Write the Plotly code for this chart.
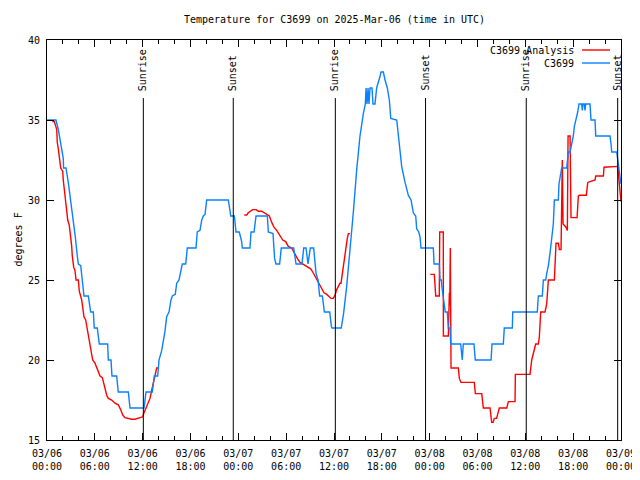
import pandas as pd
import plotly.graph_objects as go

# ---------------- data ----------------
BASE = "2025-03-06 00:00"
title_text = "Temperature for C3699 on 2025-Mar-06 (time in UTC)"
y_title = "degrees F"

# hours after 2025-03-06 00:00 UTC, and temperature (F)
obs_hours = [0.0, 1.13, 1.42, 1.72, 2.04, 2.08, 2.38, 2.67, 2.97, 3.26, 3.55, 3.80, 3.93, 4.23, 4.48, 4.64,
             5.18, 5.39, 5.48, 5.81, 5.93, 6.31, 6.56, 7.61, 7.69, 8.03, 8.15, 8.74, 8.94, 10.20, 10.41,
             12.17, 12.29, 12.42, 13.21, 13.33, 13.46, 13.89, 14.05, 14.39, 14.59, 14.80, 15.01, 15.30,
             15.55, 15.72, 16.09, 16.27, 16.56, 16.81, 16.97, 17.40, 17.60, 18.69, 18.85, 19.19, 19.41,
             19.61, 19.82, 20.03, 22.74, 22.96, 23.04, 23.50, 23.71, 24.12, 24.42, 24.50, 25.46, 25.59,
             25.97, 26.22, 27.64, 27.76, 28.35, 28.55, 28.72, 29.18, 29.39, 30.94, 31.24, 31.99, 32.20,
             32.49, 32.74, 33.03, 33.45, 33.75, 34.00, 34.20, 34.54, 34.79, 35.46, 35.67, 35.75, 36.91,
             37.20, 37.59, 38.01, 38.42, 38.85, 39.26, 39.68, 39.93, 40.02, 40.14, 40.27, 40.39, 40.52,
             40.77, 40.89, 41.14, 41.35, 41.55, 41.76, 41.90, 42.19, 42.40, 42.69, 42.94, 43.12, 43.87,
             44.07, 44.28, 44.49, 44.91, 45.32, 45.66, 45.95, 46.25, 46.37, 46.63, 46.79, 46.91, 48.46,
             48.55, 49.21, 49.30, 49.46, 49.55, 49.71, 49.96, 50.21, 50.34, 50.55, 50.64, 51.89, 52.02,
             52.09, 52.22, 53.56, 53.72, 55.70, 55.82, 57.24, 57.36, 58.37, 58.42, 61.50, 61.63, 62.13,
             62.26, 62.56, 62.68, 62.89, 63.10, 63.31, 63.51, 63.64, 64.14, 64.22, 64.48, 64.56, 65.19,
             65.31, 65.39, 65.61, 66.02, 66.15, 66.36, 66.57, 66.73, 67.07, 67.15, 67.23, 67.40, 67.49,
             67.57, 68.11, 68.24, 68.74, 68.83, 70.62, 70.75, 70.84, 71.46, 71.59, 71.66, 71.79, 71.91, 72.0]
obs_temps = [35.0, 35.0, 34.4, 33.5, 32.6, 32.0, 32.0, 31.1, 30.0, 28.75, 27.7, 26.5, 26.0, 25.9, 24.7, 24.0,
             24.0, 23.2, 23.0, 23.0, 22.0, 22.0, 21.0, 21.0, 20.0, 20.0, 19.0, 19.0, 18.0, 18.0, 17.0,
             17.0, 17.7, 18.0, 18.0, 18.6, 19.0, 19.0, 20.0, 20.6, 21.1, 21.8, 22.7, 23.0,
             23.75, 24.0, 24.1, 24.8, 25.0, 25.7, 26.0, 26.0, 27.0, 27.0, 28.0, 28.1, 28.75,
             29.0, 29.1, 30.0, 30.0, 29.3, 29.0, 29.0, 28.0, 28.0, 27.4, 27.0, 27.0, 28.0,
             28.0, 29.0, 29.0, 28.0, 27.9, 26.35, 26.0, 26.0, 27.0, 27.0, 26.0, 26.0, 27.0,
             27.0, 26.0, 27.0, 27.0, 25.4, 25.0, 24.0, 24.0, 23.0, 23.0, 22.1, 22.0, 22.0,
             22.9, 24.6, 26.7, 29.2, 31.9, 34.0, 35.4, 36.0, 37.0, 36.0, 37.0, 36.0, 37.0,
             37.0, 36.0, 36.0, 37.0, 37.3, 37.7, 38.0, 38.0, 37.5, 37.0, 36.25, 35.1, 35.0,
             34.0, 33.1, 32.1, 31.1, 30.3, 30.0, 29.2, 29.0, 28.2, 28.0, 27.7, 27.0, 27.0,
             26.0, 26.0, 25.0, 25.0, 24.5, 24.0, 23.0, 23.0, 22.0, 22.0, 21.0, 21.0, 20.4,
             20.0, 21.0, 21.0, 20.0, 20.0, 21.0, 21.0, 22.0, 22.0, 23.0, 23.0, 24.0, 24.0,
             25.0, 25.0, 25.4, 25.9, 26.7, 27.5, 28.5, 30.0, 30.0, 31.0, 31.6, 32.0, 32.0,
             32.5, 33.0, 33.0, 34.0, 34.6, 35.0, 35.5, 36.0, 36.0, 35.6, 36.0, 36.0, 35.6,
             36.0, 36.0, 35.0, 35.0, 34.0, 34.0, 33.5, 33.0, 33.0, 32.5, 32.1, 31.5, 31.0, 31.0]

ana_hours = [0.66, 0.92, 1.22, 1.29, 1.42, 1.54, 1.67, 1.72, 1.84, 1.97, 2.04, 2.17, 2.35, 2.47, 2.60,
             2.80, 2.92, 3.01, 3.10, 3.17, 3.35, 3.51, 3.64, 3.93, 4.05, 4.35, 4.48, 4.64, 4.85, 5.06,
             5.31, 5.48, 5.61, 5.73, 6.02, 6.23, 6.44, 6.65, 6.94, 7.15, 7.36, 7.49, 7.69, 8.12, 8.53,
             8.94, 9.24, 9.50, 9.78, 10.20, 10.62, 11.04, 11.33, 11.67, 12.00, 12.17, 12.42, 12.71,
             12.92, 13.13, 13.33, 13.55, 13.76, 13.96, None,
             24.75, 25.05, 25.25, 25.55, 25.80, 26.22, 26.51, 26.93, 27.22, 27.56, 27.89, 28.19, 28.47,
             28.81, 29.10, 29.35, 29.57, 29.94, 30.27, 30.69, 30.90, 31.20, 31.45, 31.74, 32.07, 32.36,
             32.78, 33.08, 33.33, 33.62, 33.91, 34.16, 34.46, 34.75, 35.09, 35.37, 35.62, 35.91, 36.13,
             36.34, 36.54, 36.75, 36.88, 37.09, 37.29, 37.51, 37.67, 37.80, 38.01, None,
             48.08, 48.58, 48.67, 48.76, 49.21, 49.26, 49.71, 49.72, 50.34, 50.47, 50.52, 50.59, 50.64,
             50.68, 51.60, 51.72, 51.93, 53.60, 53.73, 54.53, 54.73, 55.57, 55.78, 55.95, 56.11, 56.39,
             56.74, 57.67, 57.87, 58.71, 58.75, 60.59, 60.80, 61.00, 61.30, 61.63, 61.76, 61.93, 62.47,
             62.68, 62.89, 63.64, 63.73, 63.85, 64.14, 64.27, 64.48, 64.56, 64.64, 64.73, 65.10, 65.27,
             65.36, 65.61, 65.73, 66.49, 66.65, 66.77, 67.65, 67.74, 67.83, 68.74, 68.83, 69.79, 69.87,
             71.59, 71.79, 71.91, 72.0]
ana_temps = [34.9, 34.9, 34.4, 33.6, 33.2, 32.7, 32.1, 32.0, 31.9, 31.8, 31.25, 30.6, 30.0, 29.4, 28.75,
             28.4, 28.0, 27.5, 27.1, 26.5, 25.8, 25.6, 25.0, 25.0, 24.3, 23.75, 23.2, 22.7, 22.5, 21.9,
             21.35, 20.8, 20.25, 20.0, 19.8, 19.5, 19.2, 19.0, 18.9, 18.4, 18.1, 17.8, 17.6, 17.5, 17.3,
             17.2, 16.9, 16.56, 16.4, 16.35, 16.3, 16.3, 16.35, 16.4, 16.45, 16.7, 17.0, 17.4,
             17.6, 18.1, 18.6, 19.0, 19.5, 19.5, None,
             29.06, 29.06, 29.2, 29.3, 29.4, 29.4, 29.3, 29.3, 29.2, 29.06, 29.0, 28.6, 28.3,
             28.1, 27.9, 27.7, 27.5, 27.4, 27.1, 27.0, 26.8, 26.6, 26.3, 26.1, 26.0, 25.9,
             25.8, 25.7, 25.5, 25.25, 25.0, 24.75, 24.5, 24.2, 24.1, 23.96, 23.85, 23.85, 24.06,
             24.4, 24.6, 24.8, 24.8, 25.6, 26.5, 27.1, 27.6, 27.9, 27.9, None,
             25.35, 25.35, 24.7, 24.0, 24.0, 28.0, 28.0, 21.5, 21.5, 24.2, 23.4, 27.0, 23.2,
             19.5, 19.5, 18.85, 18.6, 18.6, 17.9, 17.9, 17.0, 17.0, 16.1, 16.1, 16.35, 16.35,
             17.0, 17.0, 17.4, 17.4, 19.1, 19.1, 20.0, 20.4, 21.0, 21.0, 21.45, 23.0, 23.0,
             23.5, 25.0, 25.0, 26.25, 27.3, 27.3, 26.9, 26.9, 29.06, 32.5, 28.5, 28.3, 28.1,
             34.0, 34.0, 28.9, 28.9, 30.25, 30.3, 30.3, 30.7, 31.1, 31.25, 31.5, 31.5, 32.05,
             32.1, 30.8, 29.9, 29.9]

sun_times = ["2025-03-06 12:05", "2025-03-06 23:22", "2025-03-07 12:10",
             "2025-03-07 23:29", "2025-03-08 12:07", "2025-03-08 23:35"]
sun_labels = ["Sunrise", "Sunset", "Sunrise", "Sunset", "Sunrise", "Sunset"]

tick_hours = [0, 6, 12, 18, 24, 30, 36, 42, 48, 54, 60, 66, 72]
tick_labels = ["03/06<br>00:00", "03/06<br>06:00", "03/06<br>12:00", "03/06<br>18:00",
               "03/07<br>00:00", "03/07<br>06:00", "03/07<br>12:00", "03/07<br>18:00",
               "03/08<br>00:00", "03/08<br>06:00", "03/08<br>12:00", "03/08<br>18:00",
               "03/09<br>00:00"]
y_ticks = [15, 20, 25, 30, 35, 40]

series_names = ["C3699 Analysis", "C3699"]
series_colors = ["#ff0000", "#0a80ff"]

# ---------------- helpers ----------------
base = pd.Timestamp(BASE)


def to_time(hs):
    return [None if h is None else (base + pd.Timedelta(hours=h)).strftime("%Y-%m-%d %H:%M:%S") for h in hs]


FONT = "DejaVu Sans Mono"
OFF = 8  # page body margin offset in the browser
W, H = 640 - OFF, 480 - OFF
# target plot area in page pixels: x 47..621, y 40..440
L, R, T, B = 47 - OFF, 640 - 621, 40 - OFF, 480 - 440
PW, PH = 621 - 47, 440 - 40


def px(xp):  # page pixel -> paper x
    return (xp - 47) / PW


def py(yp):  # page pixel -> paper y
    return (440 - yp) / PH


fig = go.Figure()
fig.add_trace(go.Scatter(x=to_time(ana_hours), y=ana_temps, mode="lines", name=series_names[0],
                         line=dict(color=series_colors[0], width=1.4), connectgaps=False))
fig.add_trace(go.Scatter(x=to_time(obs_hours), y=obs_temps, mode="lines", name=series_names[1],
                         line=dict(color=series_colors[1], width=1.4)))

shapes = []
annotations = []
for t, lab in zip(sun_times, sun_labels):
    shapes.append(dict(type="line", xref="x", yref="paper", x0=t, x1=t, y0=0, y1=py(98),
                       line=dict(color="black", width=1)))
    annotations.append(dict(text=lab, x=t, xref="x", y=py(93), yref="paper", textangle=-90,
                            xanchor="center", yanchor="bottom", showarrow=False,
                            font=dict(family=FONT, size=10, color="black")))

# legend (gnuplot style: text then sample line)
for i, (nm, col) in enumerate(zip(series_names, series_colors)):
    yy = py(50 + 13 * i)
    annotations.append(dict(text=nm, x=px(576), y=yy, xref="paper", yref="paper",
                            xanchor="right", yanchor="middle", showarrow=False,
                            font=dict(family=FONT, size=10, color="black")))
    shapes.append(dict(type="line", xref="paper", yref="paper", x0=px(582), x1=px(610),
                       y0=yy, y1=yy, line=dict(color=col, width=1.4)))

annotations.append(dict(text=title_text, x=0.5, y=py(20), xref="paper", yref="paper",
                        xanchor="center", yanchor="middle", showarrow=False,
                        font=dict(family=FONT, size=10, color="black")))
annotations.append(dict(text=y_title, x=px(OFF + 2), y=0.5, xref="paper", yref="paper", textangle=-90,
                        xanchor="left", yanchor="middle", showarrow=False,
                        font=dict(family=FONT, size=10, color="black")))

fig.update_layout(
    width=W, height=H, autosize=False,
    margin=dict(l=L, r=R, t=T, b=B, pad=0),
    plot_bgcolor="white", paper_bgcolor="white",
    showlegend=False,
    shapes=shapes, annotations=annotations,
    font=dict(family=FONT, size=10, color="black"),
)
fig.update_xaxes(
    type="date", range=to_time([0, 72]),
    tickvals=to_time(tick_hours), ticktext=tick_labels,
    ticks="inside", ticklen=7, tickcolor="black", tickwidth=1,
    showline=True, linecolor="black", linewidth=1, mirror="allticks",
    showgrid=False, zeroline=False, automargin=False, ticklabelstandoff=4,
    tickfont=dict(family=FONT, size=10, color="black"),
    minor=dict(ticks="inside", ticklen=4, tickcolor="black", dtick=2 * 3600 * 1000,
               tick0=to_time([0])[0], showgrid=False),
)
fig.update_yaxes(
    range=[15, 40], tickvals=y_ticks,
    ticks="inside", ticklen=7, tickcolor="black", tickwidth=1,
    showline=True, linecolor="black", linewidth=1, mirror="allticks",
    showgrid=False, zeroline=False, automargin=False, ticklabelstandoff=4,
    tickfont=dict(family=FONT, size=10, color="black"),
)

fig.write_html("out.html")
